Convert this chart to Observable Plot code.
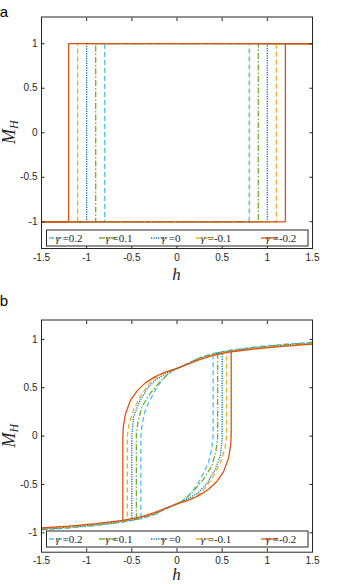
<!DOCTYPE html>
<html>
<head>
<meta charset="utf-8">
<script src="https://cdn.jsdelivr.net/npm/d3@7"></script>
<script src="https://cdn.jsdelivr.net/npm/@observablehq/plot@0.6"></script>
<style>
  html, body { margin: 0; padding: 0; background: #fff; }
  #wrap { width: 341px; height: 584px; position: relative; overflow: hidden; }
  svg { display: block; }
</style>
</head>
<body>
<div id="wrap"></div>
<script>
// ---------- data ----------
const gammaLabels = ["0.2", "0.1", "0", "-0.1", "-0.2"];
const seriesColors = ["#4DBEEE", "#77AC30", "#0072BD", "#EDB120", "#D95319"];
const seriesDash = ["5,3", "6,2,1.5,2", "1.2,1.2", "5,3", null];
const xTicks = [-1.5, -1, -0.5, 0, 0.5, 1, 1.5];
const yTicks = [-1, -0.5, 0, 0.5, 1];

// panel a: switching fields of the rectangular loops
const switchA = [0.8, 0.9, 1.0, 1.1, 1.2];

// panel b: branches [h, M]
const upperB02 = [[1.5,0.97],[1.2,0.95],[0.9,0.925],[0.6,0.89],[0.4,0.855],[0.25,0.81],[0.15,0.765],[0,0.70],[-0.05,0.675],[-0.13,0.615],[-0.22,0.51],[-0.29,0.39],[-0.35,0.27],[-0.385,0.13],[-0.4,0.0],[-0.4,-0.855]];
const lowerB02 = [[-1.5,-0.97],[-1.2,-0.95],[-0.9,-0.925],[-0.6,-0.89],[-0.4,-0.855],[-0.25,-0.81],[-0.15,-0.765],[0,-0.70],[0.05,-0.675],[0.13,-0.615],[0.22,-0.51],[0.29,-0.39],[0.35,-0.27],[0.385,-0.13],[0.4,0.0],[0.4,0.855]];
const upperB01 = [[1.5,0.965],[1.2,0.945],[0.9,0.92],[0.6,0.885],[0.45,0.86],[0.25,0.81],[0.15,0.76],[0,0.70],[-0.08,0.66],[-0.18,0.57],[-0.29,0.45],[-0.385,0.31],[-0.43,0.16],[-0.45,0.02],[-0.45,-0.86]];
const lowerB01 = [[-1.5,-0.965],[-1.2,-0.945],[-0.9,-0.92],[-0.6,-0.885],[-0.45,-0.86],[-0.25,-0.81],[-0.15,-0.76],[0,-0.70],[0.08,-0.66],[0.18,-0.57],[0.29,-0.45],[0.385,-0.31],[0.43,-0.16],[0.45,-0.02],[0.45,0.86]];
const upperB00 = [[1.5,0.96],[1.2,0.94],[0.9,0.915],[0.6,0.88],[0.5,0.865],[0.25,0.805],[0.15,0.76],[0,0.70],[-0.12,0.65],[-0.24,0.58],[-0.33,0.49],[-0.42,0.35],[-0.48,0.2],[-0.5,0.02],[-0.5,-0.865]];
const lowerB00 = [[-1.5,-0.96],[-1.2,-0.94],[-0.9,-0.915],[-0.6,-0.88],[-0.5,-0.865],[-0.25,-0.805],[-0.15,-0.76],[0,-0.70],[0.12,-0.65],[0.24,-0.58],[0.33,-0.49],[0.42,-0.35],[0.48,-0.2],[0.5,-0.02],[0.5,0.865]];
const upperBm01 = [[1.5,0.955],[1.2,0.938],[0.9,0.912],[0.6,0.878],[0.4,0.84],[0.25,0.80],[0.15,0.757],[0,0.70],[-0.15,0.65],[-0.25,0.595],[-0.31,0.54],[-0.40,0.42],[-0.478,0.28],[-0.53,0.13],[-0.55,0.0],[-0.55,-0.87]];
const lowerBm01 = [[-1.5,-0.955],[-1.2,-0.938],[-0.9,-0.912],[-0.6,-0.878],[-0.4,-0.84],[-0.25,-0.80],[-0.15,-0.757],[0,-0.70],[0.15,-0.65],[0.25,-0.595],[0.31,-0.54],[0.40,-0.42],[0.478,-0.28],[0.53,-0.13],[0.55,0.0],[0.55,0.87]];
const upperBm02 = [[1.5,0.95],[1.2,0.93],[0.9,0.905],[0.6,0.872],[0.4,0.835],[0.25,0.79],[0.15,0.755],[0,0.70],[-0.15,0.655],[-0.25,0.61],[-0.35,0.55],[-0.44,0.47],[-0.515,0.37],[-0.57,0.23],[-0.595,0.09],[-0.6,-0.02],[-0.6,-0.872]];
const lowerBm02 = [[-1.5,-0.95],[-1.2,-0.93],[-0.9,-0.905],[-0.6,-0.872],[-0.4,-0.835],[-0.25,-0.79],[-0.15,-0.755],[0,-0.70],[0.15,-0.655],[0.25,-0.61],[0.35,-0.55],[0.44,-0.47],[0.515,-0.37],[0.57,-0.23],[0.595,-0.09],[0.6,0.02],[0.6,0.872]];

// ---------- build tables ----------
const seriesA = switchA.map((hc, i) => ({
  i,
  branches: [
    [[-1.5, -1], [hc, -1], [hc, 1], [1.5, 1]],
    [[1.5, 1], [-hc, 1], [-hc, -1], [-1.5, -1]]
  ]
}));
const seriesB = [
  [upperB02, lowerB02], [upperB01, lowerB01], [upperB00, lowerB00],
  [upperBm01, lowerBm01], [upperBm02, lowerBm02]
].map((branches, i) => ({i, branches}));

const INK = "#262626";

function makePanel(series, yDomain, mTop, mBottom, letter, legendTop, labelBaseline) {
  const H = 292;
  const marks = [];
  series.forEach(s => {
    s.branches.forEach(b => {
      marks.push(Plot.line(b, {
        x: d => d[0], y: d => d[1],
        stroke: seriesColors[s.i],
        strokeWidth: 1.3,
        strokeDasharray: seriesDash[s.i] || undefined,
        strokeLinecap: "butt"
      }));
    });
  });
  marks.push(Plot.frame({stroke: INK, strokeWidth: 1}));
  marks.push(Plot.axisX(xTicks, {anchor: "bottom", tickSize: -3.5, tickPadding: 8.5, tickFormat: d => String(d), label: null, fill: INK, stroke: INK, fontSize: 10}));
  marks.push(Plot.axisX(xTicks, {anchor: "top", tickSize: -3.5, tickFormat: () => "", label: null, stroke: INK}));
  marks.push(Plot.axisY(yTicks, {anchor: "left", tickSize: -3.5, tickPadding: 7.5, tickFormat: d => String(d), label: null, fill: INK, stroke: INK, fontSize: 10}));
  marks.push(Plot.axisY(yTicks, {anchor: "right", tickSize: -3.5, tickFormat: () => "", label: null, stroke: INK}));

  const svg = Plot.plot({
    width: 341, height: H,
    marginLeft: 41, marginRight: 29, marginTop: mTop, marginBottom: mBottom,
    x: {domain: [-1.5, 1.5]},
    y: {domain: yDomain},
    style: {fontFamily: "'Liberation Sans', Arial, sans-serif", fontSize: "10px", color: INK, background: "#fff"},
    marks
  });

  const sel = d3.select(svg);
  // panel letter
  sel.append("text").attr("x", 4).attr("y", letter === "a" ? 17 : 14)
    .attr("font-family", "'Liberation Sans', Arial, sans-serif").attr("font-size", 15)
    .style("fill", "#000").text(letter);
  // y label M_H
  const boxMid = (mTop + (H - mBottom)) / 2;
  const yl = sel.append("text")
    .attr("transform", `translate(15,${boxMid}) rotate(-90)`)
    .attr("text-anchor", "middle")
    .attr("font-family", "'Liberation Serif', 'DejaVu Serif', serif")
    .attr("font-style", "italic").style("fill", INK);
  yl.append("tspan").attr("font-size", 18).text("M");
  yl.append("tspan").attr("font-size", 12).attr("dy", 3).text("H");
  // x label h
  sel.append("text").attr("x", 176.5).attr("y", labelBaseline)
    .attr("text-anchor", "middle")
    .attr("font-family", "'Liberation Serif', 'DejaVu Serif', serif")
    .attr("font-style", "italic").attr("font-size", 17).style("fill", INK).text("h");

  // legend box
  const lg = sel.append("g");
  lg.append("rect").attr("x", 46.5).attr("y", legendTop).attr("width", 261.5).attr("height", 16)
    .style("fill", "#fff").style("stroke", INK).attr("stroke-width", 1);
  const sampleX = [49, 99, 151, 196, 261];
  gammaLabels.forEach((g, i) => {
    const x0 = sampleX[i];
    const ly = legendTop + 8;
    lg.append("line").attr("x1", x0).attr("x2", x0 + 17).attr("y1", ly).attr("y2", ly)
      .style("stroke", seriesColors[i]).attr("stroke-width", 1.3)
      .attr("stroke-dasharray", seriesDash[i] || null);
    const t = lg.append("text").attr("x", x0 + 20).attr("y", legendTop + 11.8)
      .attr("font-family", "'Liberation Serif', 'DejaVu Serif', serif")
      .attr("font-size", 11).style("fill", INK);
    t.append("tspan").attr("font-style", "italic").text("γ");
    t.append("tspan").text("\u00A0=" + g);
  });
  return svg;
}

const wrap = document.getElementById("wrap");
wrap.appendChild(makePanel(seriesA, [-1.3, 1.3], 16.5, 44, "a", 230, 280));
wrap.appendChild(makePanel(seriesB, [-1.2, 1.2], 27.5, 32.3, "b", 239, 288));
</script>
</body>
</html>
